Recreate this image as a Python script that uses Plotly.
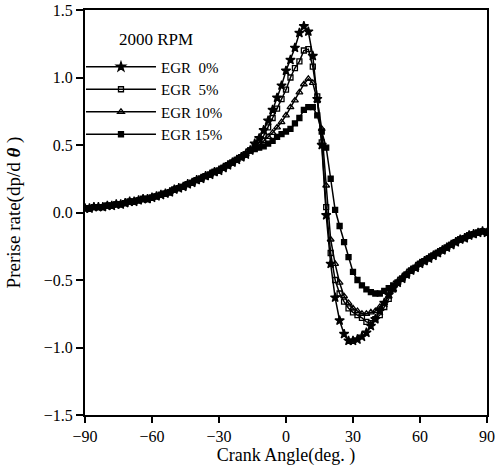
import plotly.graph_objects as go

# Crank angle grid (deg), shared by all series
crank_early = list(range(-90, -14, 2))      # -90 .. -16
crank_mid = list(range(-14, 50, 2))         # -14 .. 48
crank_late = list(range(50, 92, 2))         # 50 .. 90

# Common part before combustion (all EGR rates overlap)
rate_early = [0.03, 0.03, 0.04, 0.04, 0.04, 0.05, 0.05, 0.06, 0.06, 0.07,
              0.08, 0.08, 0.09, 0.10, 0.10, 0.11, 0.12, 0.13, 0.14, 0.15,
              0.17, 0.18, 0.19, 0.21, 0.22, 0.24, 0.25, 0.27, 0.28, 0.30,
              0.31, 0.33, 0.35, 0.37, 0.39, 0.41, 0.43, 0.46]

# Combustion part per EGR rate
egr0_mid = [0.51, 0.55, 0.61, 0.68, 0.76, 0.85, 0.94, 1.05, 1.13, 1.22,
            1.33, 1.38, 1.34, 1.16, 0.84, 0.50, -0.02, -0.38, -0.63, -0.80,
            -0.90, -0.95, -0.95, -0.94, -0.92, -0.89, -0.84, -0.79, -0.73, -0.67,
            -0.61, -0.56]
egr5_mid = [0.49, 0.52, 0.57, 0.63, 0.70, 0.77, 0.84, 0.91, 1.00, 1.07,
            1.12, 1.20, 1.21, 1.08, 0.86, 0.52, 0.04, -0.30, -0.50, -0.60,
            -0.66, -0.71, -0.74, -0.76, -0.78, -0.81, -0.82, -0.79, -0.76, -0.70,
            -0.64, -0.57]
egr10_mid = [0.48, 0.50, 0.53, 0.56, 0.59, 0.63, 0.67, 0.72, 0.78, 0.83,
             0.89, 0.95, 0.99, 0.96, 0.83, 0.62, 0.20, -0.20, -0.38, -0.52,
             -0.62, -0.67, -0.71, -0.73, -0.75, -0.75, -0.74, -0.73, -0.70, -0.67,
             -0.62, -0.57]
egr15_mid = [0.47, 0.48, 0.49, 0.51, 0.53, 0.56, 0.58, 0.60, 0.62, 0.66,
             0.70, 0.76, 0.78, 0.78, 0.72, 0.60, 0.48, 0.25, 0.02, -0.10,
             -0.22, -0.33, -0.44, -0.50, -0.54, -0.57, -0.59, -0.60, -0.60, -0.58,
             -0.56, -0.54]

# Common part after combustion
rate_late = [-0.52, -0.49, -0.46, -0.43, -0.41, -0.38, -0.36, -0.34, -0.32, -0.30,
             -0.28, -0.26, -0.24, -0.22, -0.20, -0.19, -0.17, -0.16, -0.15, -0.14,
             -0.15]

series_names = ["EGR  0%", "EGR  5%", "EGR 10%", "EGR 15%"]
series_mid = [egr0_mid, egr5_mid, egr10_mid, egr15_mid]
series_symbols = ["star", "square-open", "triangle-up-open", "square"]
series_sizes = [7, 5, 6, 5]

x_ticks = [-90, -60, -30, 0, 30, 60, 90]
y_ticks = [-1.5, -1.0, -0.5, 0.0, 0.5, 1.0, 1.5]

crank = crank_early + crank_mid + crank_late

fig = go.Figure()
for name, mid, sym, sz in zip(series_names, series_mid, series_symbols, series_sizes):
    fig.add_trace(go.Scatter(
        x=crank, y=rate_early + mid + rate_late,
        mode="lines+markers", name=name,
        line=dict(color="black", width=1.5),
        marker=dict(symbol=sym, size=sz, color="black",
                    line=dict(color="black", width=1.3)),
    ))

font_family = "Liberation Serif, Times New Roman, serif"

fig.add_annotation(text="2000 RPM", xref="paper", yref="paper",
                   x=0.08, y=0.926, xanchor="left", yanchor="middle",
                   showarrow=False, font=dict(family=font_family, size=17, color="black"))

fig.update_layout(
    width=495, height=470,
    margin=dict(l=85, r=8, t=10, b=55),
    paper_bgcolor="white", plot_bgcolor="white",
    font=dict(family=font_family, size=16, color="black"),
    showlegend=True,
    legend=dict(x=-0.01, y=0.90, xanchor="left", yanchor="top",
                bgcolor="rgba(0,0,0,0)", font=dict(family=font_family, size=15),
                tracegroupgap=0, itemwidth=70),
)
fig.update_xaxes(range=[-90, 90], tickvals=x_ticks,
                 showgrid=False, zeroline=False, showline=True, linecolor="black",
                 linewidth=2, mirror=True, ticks="outside", ticklen=6,
                 tickcolor="black", tickwidth=1.5, automargin=False,
                 tickfont=dict(family=font_family, size=16),
                 title=dict(text="Crank Angle(deg. )", standoff=4,
                            font=dict(family=font_family, size=18)))
fig.update_yaxes(range=[-1.5, 1.5], tickvals=y_ticks,
                 tickformat=".1f",
                 showgrid=False, zeroline=False, showline=True, linecolor="black",
                 linewidth=2, mirror=True, ticks="outside", ticklen=7,
                 tickcolor="black", tickwidth=1.5, automargin=False,
                 tickfont=dict(family=font_family, size=16),
                 title=dict(text="Prerise rate(dp/d <b><i>θ</i></b> )", standoff=18,
                            font=dict(family=font_family, size=19)))

fig.write_html("out.html", config={"displayModeBar": False},
               post_script="document.body.style.margin='0';")
